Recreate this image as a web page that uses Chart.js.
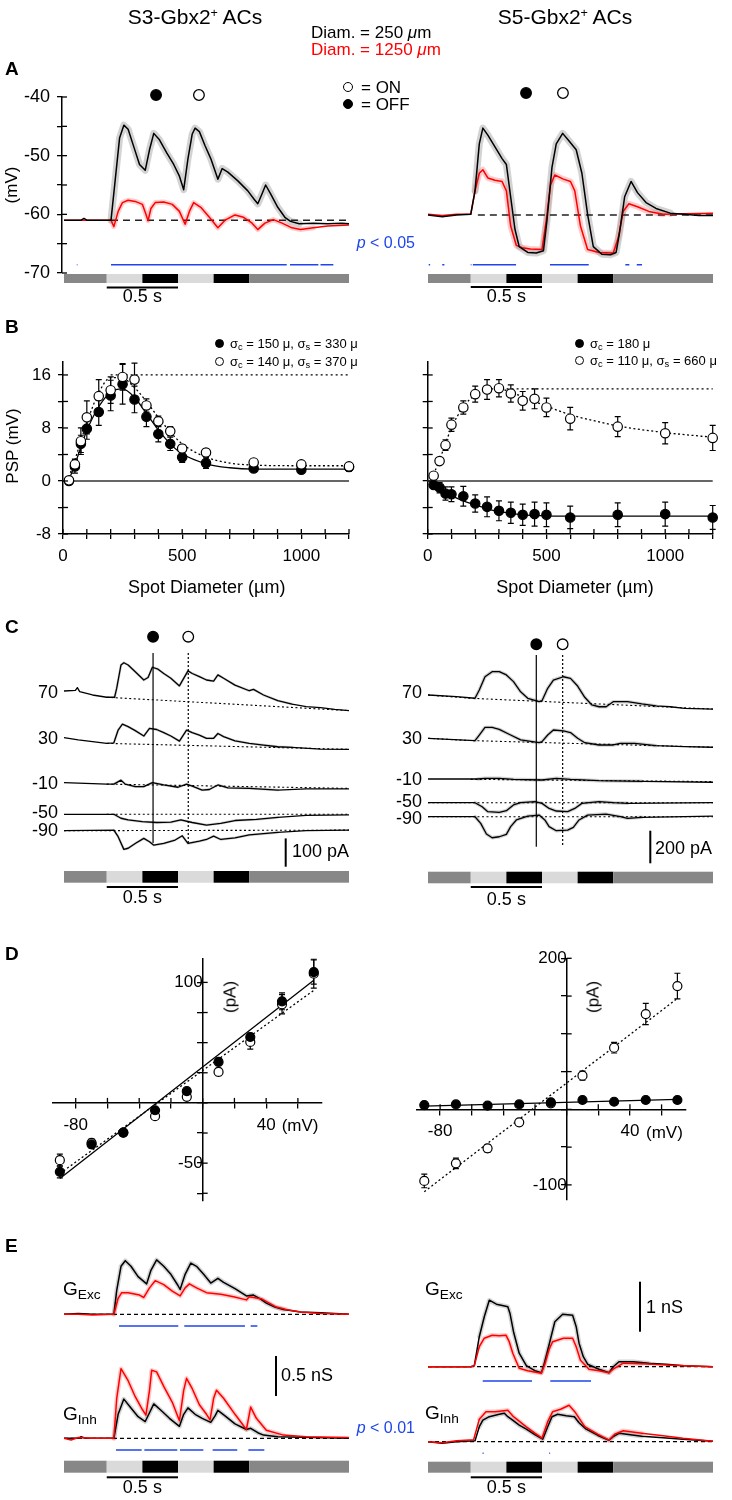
<!DOCTYPE html>
<html>
<head>
<meta charset="utf-8">
<title>S3 / S5 Gbx2+ amacrine cells</title>
<script src="https://cdn.jsdelivr.net/npm/chart.js"></script>
<style>
  body { margin: 0; background: #fff; }
  #fig { position: relative; width: 732px; height: 1500px; overflow: hidden;
         font-family: "Liberation Sans", Arial, Helvetica, sans-serif; color: #000; }
  #fig canvas { position: absolute; left: 0; top: 0; }
  .t { position: absolute; white-space: nowrap; line-height: 1; }
  .t sub { font-size: 0.72em; vertical-align: -0.3em; line-height: 0; }
  .t sup { font-size: 0.6em; vertical-align: 0.55em; line-height: 0; }
  .dot { position: absolute; box-sizing: border-box; border: 1.3px solid #000; border-radius: 50%; background: #fff; }
  .dot.f { background: #000; }
</style>
</head>
<body>
<div id="fig"></div>
<script>
// ---------- stimulus (seconds) ----------
const stimEdges = [0, 0.3, 0.55, 0.8, 1.05, 1.3, 2.0];
const stimLevels = ['gray', 'light', 'dark', 'light', 'dark', 'gray'];
const timeBar = [0.3, 0.8]; // 0.5 s

// ---------- A: membrane potential (t s, mV) ----------
const vS3Small = [[0,-61],[0.12,-61],[0.14,-60.7],[0.16,-61],[0.33,-61],[0.36,-54],[0.39,-47],[0.42,-44.8],[0.45,-45.5],[0.49,-48.5],[0.53,-51.5],[0.57,-52.5],[0.6,-49],[0.63,-46.2],[0.67,-47.3],[0.72,-49.5],[0.77,-51.5],[0.81,-53.5],[0.84,-55.8],[0.87,-50.5],[0.9,-46.3],[0.92,-45.3],[0.95,-45.9],[0.99,-48.3],[1.03,-50.5],[1.08,-54],[1.11,-52.2],[1.15,-52.8],[1.22,-54.3],[1.29,-56],[1.33,-57.3],[1.36,-58.2],[1.39,-56.5],[1.415,-55],[1.45,-56.5],[1.5,-58.8],[1.55,-60.5],[1.59,-61.2],[1.65,-61.6],[1.75,-61.5],[1.85,-61.6],[1.95,-61.5],[2.0,-61.6]];
const vS3Large = [[0,-61],[0.2,-61],[0.33,-61],[0.35,-62.1],[0.38,-59.5],[0.41,-58],[0.45,-57.6],[0.5,-57.8],[0.55,-58.3],[0.575,-60],[0.59,-61.1],[0.61,-59],[0.64,-58],[0.7,-57.9],[0.76,-58.3],[0.81,-59.5],[0.85,-61.7],[0.88,-59.5],[0.91,-58],[0.96,-58.8],[1.02,-60.5],[1.08,-62.3],[1.13,-61],[1.2,-60.1],[1.26,-60.5],[1.32,-61.5],[1.36,-62.6],[1.41,-61.5],[1.47,-60.9],[1.53,-61.5],[1.6,-62.3],[1.66,-62.6],[1.75,-62.3],[1.85,-62],[2.0,-61.8]];
const vS5Small = [[0,-60.1],[0.1,-60.4],[0.2,-60.1],[0.3,-60],[0.33,-56],[0.36,-48],[0.385,-45.3],[0.42,-46.5],[0.47,-48.5],[0.52,-50.5],[0.55,-51.5],[0.58,-57],[0.61,-62.5],[0.64,-65.5],[0.7,-66.5],[0.76,-66.6],[0.81,-66.2],[0.835,-61],[0.87,-52],[0.9,-48],[0.945,-46.2],[0.99,-47.5],[1.04,-49],[1.08,-53],[1.12,-60],[1.16,-65.5],[1.22,-66.8],[1.28,-66.9],[1.32,-66.5],[1.345,-63],[1.38,-57],[1.425,-54.4],[1.47,-56.3],[1.53,-58],[1.6,-59],[1.7,-59.8],[1.8,-60],[1.9,-60.2],[2.0,-60.2]];
const vS5Large = [[0,-60],[0.1,-60.2],[0.2,-60],[0.3,-60],[0.33,-56],[0.36,-53],[0.385,-52.4],[0.42,-53.8],[0.47,-54.2],[0.52,-54.4],[0.55,-56],[0.58,-62],[0.62,-65.3],[0.66,-65.7],[0.72,-65.9],[0.8,-66],[0.83,-61],[0.86,-55],[0.89,-53.3],[0.95,-54],[1.0,-54.4],[1.03,-56],[1.07,-62],[1.12,-66],[1.2,-66.5],[1.3,-66.6],[1.335,-64],[1.37,-59.5],[1.41,-58.2],[1.47,-58.7],[1.55,-59.5],[1.65,-60],[1.8,-59.9],[2.0,-59.8]];
const restS3 = -61, restS5 = -60.1;
const sigS3A = [[0.08,0.084],[0.09,0.094],[0.33,1.563],[1.586,1.785],[1.8,1.89]];
const sigS5A = [[0.005,0.015],[0.1,0.115],[0.3,0.305],[0.315,0.618],[0.856,1.128],[1.385,1.413],[1.465,1.502]];
const probeS3A = [0.646, 0.947];   // OFF, ON
const probeS5A = [0.688, 0.947];

// ---------- B: area summation (diameter um, mV) ----------
const diam = [25,50,75,100,150,200,250,300,350,400,450,500,600,800,1000,1200];
const bS3Off = [0,2.2,5.6,7.9,10.4,12.9,14.6,12.3,9.7,7.1,5.6,3.6,2.7,1.9,1.7,2.1];
const bS3OffErr = [0.3,1,1.3,1.6,2,2.3,3,2,1.5,1.2,1,0.8,0.8,0.5,0.5,0.6];
const bS3On = [0.1,2.5,6,9.6,12.8,13.7,15.7,15.3,11.4,9,7.5,4.9,4.3,2.8,2.5,2.2];
const bS3OnErr = [0.3,0.8,2,2.5,2.5,2,2,2.5,1,0.8,0.7,0.6,0.5,0.4,0.4,0.4];
const bS5Off = [-0.6,-1.0,-1.9,-2.0,-2.3,-3.4,-3.9,-4.5,-4.8,-5.1,-5.0,-5.1,-5.5,-5.1,-5.0,-5.5];
const bS5OffErr = [0.5,0.8,1,1.1,1.5,1.3,1.5,1.5,1.6,1.6,1.8,1.8,1.7,1.8,1.8,1.8];
const bS5On = [0.8,3.0,5.4,8.5,11.1,13.1,13.8,14.0,13.2,12.1,12.4,11.1,9.4,8.2,7.2,6.5];
const bS5OnErr = [0.4,0.5,0.8,1,1,1.2,1.5,1.3,1.3,1.4,1.5,1.4,1.7,1.5,1.6,1.9];
const fitDiam = [25,50,100,150,200,250,300,350,400,450,500,600,700,800,1000,1200];
const bS3OffFit = [0.2,2.5,7.6,11.2,13.4,13.9,12.6,10.2,7.7,5.6,4.1,2.6,2.0,1.8,1.8,1.8];
const bS3OnFit = [0.6,3.2,8.8,13.3,15.6,15.5,14.1,12,9.6,7.4,5.6,3.6,2.7,2.4,2.3,2.3];
const bS5OffFit = [-0.5,-1.2,-2.2,-3.0,-3.6,-4.2,-4.6,-4.9,-5.1,-5.2,-5.25,-5.3,-5.3,-5.3,-5.3,-5.3];
const bS5OnFit = [1.0,3.2,8.0,11.2,13.0,13.8,13.9,13.4,12.7,12.0,11.3,10.0,9.1,8.3,7.3,6.6];
const centerS3 = [[200,16],[1200,16]];
const centerS5 = [[290,13.9],[1200,13.9]];

// ---------- C: currents at holding potentials (t s, pA rel. to start) ----------
const holdV = [70, 30, -10, -50, -90];
const iS3 = [
  [[0,0],[0.08,2],[0.094,12],[0.11,-2],[0.2,-14],[0.3,-22],[0.355,-22],[0.37,10],[0.4,92],[0.42,100],[0.45,92],[0.5,68],[0.56,39],[0.59,48],[0.62,84],[0.66,77],[0.7,62],[0.75,45],[0.81,18],[0.87,71],[0.9,62],[0.95,51],[1.0,39],[1.05,35],[1.08,57],[1.12,45],[1.2,21],[1.3,1],[1.33,6],[1.4,-14],[1.5,-34],[1.6,-46],[1.7,-55],[1.8,-59],[1.9,-65],[2.0,-69]],
  [[0,0],[0.1,-8],[0.2,-14],[0.3,-20],[0.35,-18],[0.38,27],[0.41,48],[0.45,39],[0.5,25],[0.56,6],[0.6,33],[0.65,29],[0.7,18],[0.75,6],[0.81,-12],[0.86,27],[0.9,18],[0.95,9],[1.0,-2],[1.05,-2],[1.08,15],[1.12,4],[1.2,-11],[1.3,-20],[1.4,-26],[1.5,-32],[1.6,-34],[1.8,-40],[2.0,-41]],
  [[0,0],[0.3,-5],[0.35,-5],[0.4,9],[0.43,-5],[0.5,-14],[0.56,-14],[0.62,0],[0.7,-8],[0.8,-16],[0.86,-5],[0.9,-12],[0.97,-26],[1.02,-24],[1.08,-8],[1.15,-18],[1.3,-20],[1.5,-26],[1.7,-22],[2.0,-22]],
  [[0,0],[0.35,0],[0.4,-14],[0.45,-20],[0.55,-26],[0.65,-29],[0.75,-28],[0.82,-20],[0.9,-29],[1.0,-38],[1.1,-32],[1.2,-22],[1.35,-18],[1.5,-11],[1.7,-4],[2.0,-2]],
  [[0,0],[0.35,2],[0.38,-21],[0.42,-66],[0.45,-62],[0.5,-45],[0.56,-27],[0.6,-39],[0.63,-51],[0.7,-45],[0.78,-33],[0.83,-18],[0.87,-45],[0.95,-37],[1.0,-31],[1.05,-19],[1.1,-31],[1.2,-25],[1.3,-15],[1.5,-6],[1.7,0],[2.0,2]]
];
const iS3Base = [[[0.3,-22],[2,-69]], [[0.3,-20],[2,-41]], [[0.3,-5],[2,-20]], [[0.3,0],[2,0]], [[0,0],[2,2]]];
const iS5 = [
  [[0,0],[0.2,-10],[0.33,-20],[0.36,31],[0.4,112],[0.45,143],[0.5,143],[0.55,123],[0.6,82],[0.65,20],[0.7,-20],[0.78,-41],[0.8,-35],[0.84,41],[0.88,92],[0.95,112],[1.0,102],[1.05,55],[1.1,-14],[1.15,-61],[1.2,-72],[1.25,-72],[1.3,-41],[1.4,-41],[1.5,-55],[1.6,-67],[1.7,-72],[1.8,-82],[2.0,-86]],
  [[0,0],[0.33,-14],[0.36,20],[0.4,67],[0.45,67],[0.5,55],[0.58,20],[0.65,-10],[0.78,-27],[0.8,-20],[0.84,20],[0.88,51],[0.95,45],[1.0,35],[1.05,0],[1.1,-27],[1.2,-41],[1.3,-41],[1.35,-31],[1.45,-31],[1.6,-45],[1.8,-51],[2.0,-55]],
  [[0,0],[0.35,0],[0.4,4],[0.5,4],[0.6,-2],[0.8,-6],[0.9,4],[1.0,-2],[1.2,-10],[1.5,-14],[2.0,-20]],
  [[0,0],[0.33,0],[0.38,-25],[0.42,-55],[0.5,-59],[0.55,-49],[0.6,-14],[0.65,0],[0.75,6],[0.8,-4],[0.85,-35],[0.9,-51],[0.98,-55],[1.03,-35],[1.08,-4],[1.2,6],[1.3,0],[1.4,-4],[2.0,0]],
  [[0,0],[0.33,0],[0.37,-41],[0.41,-106],[0.45,-129],[0.5,-123],[0.55,-108],[0.58,-61],[0.62,-20],[0.7,4],[0.78,10],[0.82,-20],[0.85,-61],[0.9,-86],[0.98,-82],[1.02,-65],[1.06,-20],[1.12,10],[1.25,16],[1.35,0],[1.4,-10],[1.5,-4],[2.0,4]]
];
const iS5Base = [[[0,0],[0.3,-20],[2,-86]], [[0,0],[0.3,-14],[2,-55]], [[0.3,-2],[2,-16]], [[0,0],[2,0]], [[0,0],[2,0]]];
const probeS3C = [0.625, 0.872];
const probeS5C = [0.76, 0.945];

// ---------- D: I-V (mV, pA) ----------
const volts = [-90,-70,-50,-30,-10,10,30,50,70];
const dS3Off = [-57.2,-34.5,-24.6,-6.1,9.7,34,54.7,84.3,108.6];
const dS3OffErr = [5,3,2,2,2,3,3,7,10];
const dS3On = [-47.5,-33.1,-24.6,-11,5,25.7,50.6,81.8,107.2];
const dS3OnErr = [5,3,2,2,2,3,6,8,12];
const dS5Off = [5.7,6.6,4.9,6.6,9.3,12.4,10.1,12.4,12.4];
const dS5OffErr = [2,2,2,2,2,2,2,3,4];
const dS5On = [-94.8,-71.5,-51.6,-17.2,8,44.6,81.6,126.2,163.2];
const dS5OnErr = [9,7,5,2,2,6,7,14,17];
const fitV = [-90, 70];
const dS3OffFit = [-62.7, 101.7];
const dS3OnFit = [-58.6, 93.4];
const dS5OffFit = [4.4, 13.2];
const dS5OnFit = [-109, 146.9];

// ---------- E: conductances (t s, nS) ----------
const gExcS3Small = [[0,0],[0.1,0.01],[0.2,0],[0.35,0],[0.37,0.3],[0.4,0.6],[0.43,0.67],[0.47,0.6],[0.52,0.47],[0.58,0.38],[0.61,0.55],[0.65,0.68],[0.7,0.6],[0.75,0.5],[0.8,0.36],[0.815,0.31],[0.85,0.5],[0.89,0.64],[0.93,0.6],[0.98,0.5],[1.03,0.39],[1.08,0.45],[1.12,0.4],[1.2,0.32],[1.28,0.23],[1.33,0.24],[1.38,0.19],[1.42,0.14],[1.48,0.09],[1.54,0.06],[1.66,0.03],[1.8,0.02],[2.0,0]];
const gExcS3Large = [[0,0],[0.1,0],[0.2,-0.01],[0.35,0],[0.38,0.2],[0.405,0.27],[0.45,0.27],[0.53,0.24],[0.56,0.21],[0.6,0.33],[0.64,0.42],[0.7,0.37],[0.76,0.29],[0.815,0.23],[0.85,0.33],[0.88,0.38],[0.93,0.33],[1.0,0.27],[1.1,0.25],[1.19,0.22],[1.28,0.18],[1.3,0.22],[1.39,0.19],[1.45,0.13],[1.49,0.09],[1.56,0.06],[1.66,0.03],[1.8,0.01],[2.0,0]];
const gInhS3Small = [[0,0],[0.1,0],[0.12,0.02],[0.15,0],[0.35,0],[0.38,0.3],[0.42,0.49],[0.47,0.38],[0.52,0.27],[0.57,0.21],[0.6,0.32],[0.63,0.43],[0.68,0.35],[0.74,0.25],[0.81,0.15],[0.84,0.3],[0.87,0.38],[0.92,0.3],[0.97,0.25],[1.03,0.2],[1.06,0.28],[1.08,0.35],[1.13,0.28],[1.2,0.18],[1.28,0.11],[1.31,0.125],[1.36,0.07],[1.4,0.04],[1.5,0.02],[2.0,0]];
const gInhS3Large = [[0,0],[0.05,-0.02],[0.1,0.01],[0.2,0],[0.35,0],[0.37,0.5],[0.4,0.87],[0.45,0.72],[0.5,0.52],[0.55,0.36],[0.575,0.29],[0.6,0.6],[0.615,0.85],[0.65,0.83],[0.7,0.65],[0.76,0.45],[0.81,0.22],[0.84,0.6],[0.86,0.75],[0.9,0.62],[0.95,0.42],[1.0,0.3],[1.025,0.23],[1.05,0.5],[1.07,0.6],[1.12,0.5],[1.2,0.3],[1.28,0.11],[1.31,0.39],[1.35,0.25],[1.42,0.1],[1.54,0.04],[1.7,0.02],[2.0,0.01]];
const gExcS5Small = [[0,0],[0.3,0],[0.325,0.02],[0.36,0.6],[0.395,1.0],[0.43,1.33],[0.48,1.25],[0.53,1.22],[0.56,1.2],[0.575,1.07],[0.6,0.7],[0.64,0.27],[0.69,0.02],[0.75,-0.08],[0.795,-0.12],[0.81,0],[0.84,0.33],[0.89,0.9],[0.945,1.05],[1.015,1.03],[1.04,0.8],[1.06,0.47],[1.09,0.2],[1.12,0.05],[1.2,-0.05],[1.27,-0.12],[1.3,0],[1.34,0.1],[1.44,0.1],[1.55,0.07],[1.67,0.05],[1.8,0.02],[2.0,0]];
const gExcS5Large = [[0,0],[0.3,0],[0.325,0.02],[0.36,0.4],[0.395,0.57],[0.45,0.63],[0.5,0.62],[0.547,0.63],[0.57,0.5],[0.595,0.27],[0.64,-0.03],[0.7,-0.08],[0.795,-0.13],[0.82,0.05],[0.85,0.35],[0.875,0.5],[0.95,0.57],[1.015,0.57],[1.04,0.4],[1.07,0.13],[1.13,-0.05],[1.2,-0.08],[1.27,-0.12],[1.3,-0.05],[1.37,0.07],[1.5,0.06],[1.7,0.03],[2.0,0]];
const gInhS5Small = [[0,0],[0.1,-0.03],[0.2,0],[0.33,0.02],[0.36,0.3],[0.385,0.43],[0.43,0.5],[0.5,0.55],[0.536,0.57],[0.56,0.5],[0.594,0.43],[0.64,0.33],[0.69,0.25],[0.75,0.14],[0.805,0.05],[0.84,0.3],[0.87,0.5],[0.91,0.55],[0.97,0.52],[1.027,0.5],[1.06,0.38],[1.11,0.25],[1.19,0.13],[1.27,0.03],[1.3,0.1],[1.343,0.17],[1.42,0.14],[1.5,0.11],[1.65,0.08],[1.79,0.05],[2.0,0.01]];
const gInhS5Large = [[0,0],[0.1,-0.02],[0.2,0.02],[0.32,0.04],[0.36,0.45],[0.407,0.6],[0.47,0.6],[0.56,0.63],[0.6,0.5],[0.688,0.3],[0.75,0.17],[0.8,0.07],[0.84,0.4],[0.875,0.6],[0.93,0.65],[0.99,0.73],[1.03,0.6],[1.1,0.3],[1.19,0.15],[1.27,0.03],[1.31,0.15],[1.37,0.22],[1.5,0.17],[1.65,0.12],[1.79,0.07],[2.0,0.01]];
const sigS3Exc = [[0.386,0.802],[0.844,1.27],[1.31,1.357]];
const sigS3Inh = [[0.365,0.545],[0.564,0.795],[0.814,0.978],[1.043,1.216],[1.294,1.406]];
const sigS5Exc = [[0.384,0.73],[0.858,1.144]];
const sigS5Inh = [[0.383,0.39],[0.851,0.857]];

// ---------- styling / layout ----------
const FONT = '"Liberation Sans", Arial, Helvetica, sans-serif';
const W = 732, H = 1500;
const AXW = 50, AXH = 44;          // room kept for tick labels of left / bottom axes
const RED = '#ff0000', BLUE = '#1f45ee';
const GREY_BAND = 'rgba(150,150,150,0.42)', PINK_BAND = 'rgba(255,90,90,0.3)';
const SHADE = {gray: '#878787', light: '#dadada', dark: '#000000'};
const fig = document.getElementById('fig');

const xy = (pairs, off = 0) => pairs.map(([x, y]) => ({x, y: y + off}));
const zip = (xs, ys) => xs.map((x, i) => [x, ys[i]]);
function fitBox(s) {
  const p = s.options.position;
  const size = typeof p === 'object' ? 0 : (s.isHorizontal() ? AXH : AXW);
  if (s.isHorizontal()) s.height = size; else s.width = size;
}

function line(pairs, color, width, off = 0, extra = {}) {
  return Object.assign({type: 'line', data: xy(pairs, off), borderColor: color, borderWidth: width,
    pointRadius: 0, tension: 0, fill: false, clip: false, borderJoinStyle: 'round', order: 1}, extra);
}
function halo(pairs, color, width, off, win) {
  return line(pairs, color, width, off, {order: 9, borderCapStyle: 'round',
    segment: {borderColor: c => (c.p0.parsed.x >= win[0] && c.p1.parsed.x <= win[1]) ? color : 'rgba(0,0,0,0)'}});
}
function sigLine(segs, y) {
  const data = [];
  segs.forEach(([a, b]) => data.push({x: a, y}, {x: b, y}, {x: b, y: null}));
  return {type: 'line', data, borderColor: BLUE, borderWidth: 1.6, pointRadius: 0, spanGaps: false, clip: false, order: 3};
}
function pts(xs, ys, errs, filled, r, order) {
  return {type: 'line', showLine: false, data: xs.map((x, i) => ({x, y: ys[i]})), errors: errs,
    pointRadius: r, pointBackgroundColor: filled ? '#000' : '#fff', pointBorderColor: '#000',
    pointBorderWidth: 1.2, clip: false, order};
}

function axis(min, max, step, labels, extra = {}, size = 17) {
  return Object.assign({type: 'linear', min, max, afterFit: fitBox,
    border: {display: true, color: '#000', width: 1.5},
    grid: {display: true, drawOnChartArea: false, drawTicks: true, tickLength: 5, color: '#000', lineWidth: 1.3},
    ticks: {stepSize: step, includeBounds: false, autoSkip: false, maxRotation: 0, padding: 7, color: '#000',
      font: {family: FONT, size}, callback: v => labels.includes(v) ? String(v) : ''}}, extra);
}
const hidden = (min, max) => ({type: 'linear', min, max, display: false});
const timeX = () => hidden(-0.014, 2);

// decorations drawn with the chart's own scales
function deco(c) {
  return {
    id: 'deco',
    beforeDatasetsDraw(chart) {
      const {ctx} = chart, xs = chart.scales.x, ys = chart.scales.y;
      chart.data.datasets.forEach(ds => {
        if (!ds.errors) return;
        ctx.save(); ctx.strokeStyle = '#000'; ctx.lineWidth = 1.2;
        ds.data.forEach((p, i) => {
          const e = ds.errors[i]; if (!e) return;
          const px = xs.getPixelForValue(p.x), lo = ys.getPixelForValue(p.y - e), hi = ys.getPixelForValue(p.y + e);
          ctx.beginPath();
          ctx.moveTo(px, lo); ctx.lineTo(px, hi);
          ctx.moveTo(px - 3, lo); ctx.lineTo(px + 3, lo);
          ctx.moveTo(px - 3, hi); ctx.lineTo(px + 3, hi);
          ctx.stroke();
        });
        ctx.restore();
      });
    },
    afterDraw(chart) {
      const {ctx, chartArea} = chart, xs = chart.scales.x, ys = chart.scales.y;
      ctx.save();
      if (c.cross) {
        ctx.strokeStyle = '#000'; ctx.lineWidth = 1.3;
        if (xs.options.display) {
          const pos = xs.options.position;
          const yb = typeof pos === 'object' ? ys.getPixelForValue(pos.y) : chartArea.bottom;
          xs.ticks.forEach(t => { const p = xs.getPixelForValue(t.value); ctx.beginPath(); ctx.moveTo(p, yb); ctx.lineTo(p, yb - c.cross); ctx.stroke(); });
        }
        if (ys.options.display) {
          const pos = ys.options.position;
          const xb = typeof pos === 'object' ? xs.getPixelForValue(pos.x) : chartArea.left;
          ys.ticks.forEach(t => { const p = ys.getPixelForValue(t.value); ctx.beginPath(); ctx.moveTo(xb, p); ctx.lineTo(xb + c.cross, p); ctx.stroke(); });
        }
      }
      if (c.stim) {
        const s = c.stim;
        stimLevels.forEach((lv, i) => {
          const a = xs.getPixelForValue(stimEdges[i]), b = xs.getPixelForValue(stimEdges[i + 1]);
          ctx.fillStyle = SHADE[lv]; ctx.fillRect(a, s.top, b - a, s.h);
        });
        const s0 = xs.getPixelForValue(timeBar[0]), s1 = xs.getPixelForValue(timeBar[1]);
        ctx.fillStyle = '#000'; ctx.fillRect(s0, s.line - 1, s1 - s0, 2);
        ctx.font = '18px ' + FONT; ctx.textAlign = 'center'; ctx.textBaseline = 'middle';
        ctx.fillText('0.5 s', (s0 + s1) / 2, s.text);
      }
      if (c.marks) {
        const m = c.marks;
        m.times.forEach((t, i) => {
          const px = xs.getPixelForValue(t);
          if (m.lines) {
            ctx.strokeStyle = '#000'; ctx.lineWidth = 1.2; ctx.setLineDash(i === 0 ? [] : [2, 2]);
            ctx.beginPath(); ctx.moveTo(px, m.lines[0]); ctx.lineTo(px, m.lines[1]); ctx.stroke();
            ctx.setLineDash([]);
          }
          ctx.beginPath(); ctx.arc(px, m.y, 5.3, 0, Math.PI * 2);
          ctx.fillStyle = i === 0 ? '#000' : '#fff'; ctx.fill();
          ctx.strokeStyle = '#000'; ctx.lineWidth = 1.3; ctx.stroke();
        });
      }
      if (c.bar) {
        const len = Math.abs(ys.getPixelForValue(c.bar.value) - ys.getPixelForValue(0));
        ctx.fillStyle = '#000'; ctx.fillRect(c.bar.x - 1, c.bar.bottom - len, 2, len);
      }
      ctx.restore();
    }
  };
}

function chart(area, datasets, scales, dec) {
  const cv = document.createElement('canvas');
  cv.width = W; cv.height = H; fig.appendChild(cv);
  const pad = {left: area[0], top: area[1], right: W - area[2], bottom: H - area[3]};
  Object.values(scales).forEach(s => {
    if (s.display === false || typeof s.position === 'object') return;
    if (s.position === 'left') pad.left -= AXW;
    if (s.position === 'bottom') pad.bottom -= AXH;
  });
  return new Chart(cv, {
    type: 'line',
    data: {datasets},
    options: {
      responsive: false, animation: false, devicePixelRatio: 1, events: [],
      layout: {padding: pad},
      scales,
      plugins: {legend: {display: false}, tooltip: {enabled: false}}
    },
    plugins: [deco(dec)]
  });
}

// ---------- A ----------
chart([62, 97, 349, 273], [
  line(vS3Small, '#000', 1.5, 0, {order: 0}), halo(vS3Small, GREY_BAND, 7, 0, [0.32, 1.7]),
  line(vS3Large, RED, 1.5, 0, {order: 1}), halo(vS3Large, PINK_BAND, 5, 0, [0.32, 1.75]),
  line([[0.33, restS3], [2, restS3]], '#222', 1.5, 0, {borderDash: [7, 5], order: 2}),
  sigLine(sigS3A, -68.6)
], {
  x: timeX(),
  y: axis(-70, -40, 5, [-40, -50, -60, -70], {position: 'left'}, 18)
}, {cross: 5, stim: {top: 274, h: 9, line: 287.5, text: 297.5}, marks: {y: 95, times: probeS3A}});

chart([426, 97, 713, 273], [
  line(vS5Small, '#000', 1.5, 0, {order: 0}), halo(vS5Small, GREY_BAND, 7, 0, [0.32, 1.7]),
  line(vS5Large, RED, 1.5, 0, {order: 1}), halo(vS5Large, PINK_BAND, 6, 0, [0.32, 1.7]),
  line([[0.35, restS5], [2, restS5]], '#222', 1.5, 0, {borderDash: [7, 5], order: 2}),
  sigLine(sigS5A, -68.6)
], {x: timeX(), y: hidden(-70, -40)},
{stim: {top: 274, h: 9, line: 287, text: 297.5}, marks: {y: 93, times: probeS5A}});

// ---------- B ----------
function bPanel(area, off, offErr, on, onErr, offFit, onFit, center, yLabels) {
  return chart(area, [
    line([[0, 0], [1200, 0]], '#666', 2, 0, {order: 20}),
    line(center, '#000', 1.3, 0, {borderDash: [2, 3], order: 6}),
    line(zip(fitDiam, onFit), '#000', 1.3, 0, {borderDash: [2, 2.5], cubicInterpolationMode: 'monotone', order: 5}),
    line(zip(fitDiam, offFit), '#000', 1.3, 0, {cubicInterpolationMode: 'monotone', order: 4}),
    pts(diam, off, offErr, true, 4.7, 2),
    pts(diam, on, onErr, false, 4.7, 1)
  ], {
    x: axis(0, 1200, 100, [0, 500, 1000], {position: 'bottom'}),
    y: axis(-8, 18, 4, yLabels, {position: 'left'})
  }, {cross: 5});
}
bPanel([63, 361.7, 349, 534], bS3Off, bS3OffErr, bS3On, bS3OnErr, bS3OffFit, bS3OnFit, centerS3, [16, 8, 0, -8]);
bPanel([427.7, 361.7, 712.7, 534], bS5Off, bS5OffErr, bS5On, bS5OnErr, bS5OffFit, bS5OnFit, centerS5, []);

// ---------- C ----------
function cPanel(area, traces, bases, offsets, yMax, band, dec) {
  const ds = [];
  traces.forEach((tr, i) => {
    ds.push(line(tr, '#000', 1.3, offsets[i], {order: 1}));
    ds.push(halo(tr, 'rgba(150,150,150,0.45)', band, offsets[i], [0.33, 1.6]));
    ds.push(line(bases[i], '#000', 1.1, offsets[i], {borderDash: [2, 2.5], order: 2}));
  });
  return chart(area, ds, {x: timeX(), y: hidden(0, yMax)}, dec);
}
cPanel([62, 640, 349, 868], iS3, iS3Base, [625.4, 460.4, 301.4, 189.8, 131.8], 805.7, 2.5,
  {stim: {top: 871, h: 11.7, line: 887, text: 898}, marks: {y: 636.7, times: probeS3C, lines: [653, 843]},
   bar: {x: 285.7, bottom: 866.7, value: 100}});
cPanel([426, 640, 713, 868], iS5, iS5Base, [1061.3, 795.7, 546, 400.6, 314.7], 1398.8, 3.5,
  {stim: {top: 871.7, h: 11.6, line: 887, text: 900}, marks: {y: 644.3, times: probeS5C, lines: [655, 846.7]},
   bar: {x: 650.3, bottom: 863.3, value: 200}});

// ---------- D ----------
function dPanel(area, xr, yr, ystep, yLabels, off, offErr, on, onErr, offFit, onFit) {
  return chart(area, [
    line(zip(fitV, offFit), '#000', 1.3, 0, {order: 4}),
    line(zip(fitV, onFit), '#000', 1.3, 0, {borderDash: [2, 2.5], order: 5}),
    pts(volts, on, onErr, false, 4.5, 2),
    pts(volts, off, offErr, true, 4.5, 1)
  ], {
    x: axis(xr[0], xr[1], 20, [-80, 40], {position: {y: 0}}),
    y: axis(yr[0], yr[1], ystep, yLabels, {position: {x: 0}})
  }, {cross: 5});
}
dPanel([52.7, 958.3, 321.7, 1200.5], [-94.5, 75], [-81, 120], 25, [100, -50], dS3Off, dS3OffErr, dS3On, dS3OnErr, dS3OffFit, dS3OnFit);
dPanel([416.7, 958.3, 685.3, 1200], [-94.8, 75], [-120, 200], 50, [200, -100], dS5Off, dS5OffErr, dS5On, dS5OnErr, dS5OffFit, dS5OnFit);

// ---------- E ----------
function ePanel(area, yr, excOff, exc, inh, sigExc, sigInh, sigY, dec) {
  const ds = [
    line([[0, 0], [2, 0]], '#000', 1.3, excOff, {borderDash: [4, 3], order: 4}),
    line([[0, 0], [2, 0]], '#000', 1.3, 0, {borderDash: [4, 3], order: 4}),
    sigLine(sigExc, sigY[0]), sigLine(sigInh, sigY[1])
  ];
  [[exc, excOff], [inh, 0]].forEach(([pair, off]) => {
    ds.push(line(pair[0], '#000', 1.5, off, {order: 1}), halo(pair[0], GREY_BAND, 4.5, off, [0.34, 1.6]));
    ds.push(line(pair[1], RED, 1.5, off, {order: 0}), halo(pair[1], PINK_BAND, 4.5, off, [0.34, 1.6]));
  });
  return chart(area, ds, {x: timeX(), y: hidden(yr[0], yr[1])}, dec);
}
ePanel([62, 1245, 349, 1458], [-0.246, 2.416], 1.55, [gExcS3Small, gExcS3Large], [gInhS3Small, gInhS3Large],
  sigS3Exc, sigS3Inh, [1.404, -0.146],
  {stim: {top: 1460.7, h: 12, line: 1477.3, text: 1488}, bar: {x: 276, bottom: 1396, value: 0.5}});
ePanel([426, 1245, 713, 1458], [-0.326, 3.934], 1.5, [gExcS5Small, gExcS5Large], [gInhS5Small, gInhS5Large],
  sigS5Exc, sigS5Inh, [1.214, -0.232],
  {stim: {top: 1461.7, h: 11, line: 1477.3, text: 1488}, bar: {x: 640, bottom: 1331.7, value: 1}});

// ---------- text ----------
function label(html, x, y, o = {}) {
  const d = document.createElement('div');
  d.className = 't'; d.innerHTML = html;
  d.style.left = x + 'px'; d.style.top = y + 'px';
  d.style.fontSize = (o.size || 17) + 'px';
  if (o.color) d.style.color = o.color;
  if (o.bold) d.style.fontWeight = 'bold';
  const ax = o.align === 'c' || o.rot ? '-50%' : o.align === 'r' ? '-100%' : '0';
  d.style.transform = `translate(${ax},-50%)` + (o.rot ? ' rotate(-90deg)' : '');
  fig.appendChild(d);
}
function dot(x, y, r, filled) {
  const d = document.createElement('div');
  d.className = filled ? 'dot f' : 'dot';
  Object.assign(d.style, {left: (x - r) + 'px', top: (y - r) + 'px', width: 2 * r + 'px', height: 2 * r + 'px'});
  fig.appendChild(d);
}

label('S3-Gbx2<sup>+</sup> ACs', 195, 16, {size: 21, align: 'c'});
label('S5-Gbx2<sup>+</sup> ACs', 565, 16, {size: 21, align: 'c'});
label('Diam. = 250 <i>μ</i>m', 311, 32);
label('Diam. = 1250 <i>μ</i>m', 311, 48.5, {color: RED});
dot(348.3, 87.3, 5, false); label('= ON', 361, 87.3);
dot(348.3, 104, 5, true); label('= OFF', 361, 104);
[['A', 67.5], ['B', 326], ['C', 626], ['D', 952.5], ['E', 1245]].forEach(([l, y]) => label(l, 5, y, {size: 19, bold: true}));
label('(mV)', 10.5, 185, {rot: true});
label('<i>p</i> &lt; 0.05', 415, 243.3, {size: 16, color: BLUE, align: 'r'});

dot(219, 343.3, 4.5, true); label('σ<sub>c</sub> = 150 μ, σ<sub>s</sub> = 330 μ', 230, 343.3, {size: 13});
dot(219, 361, 4.5, false); label('σ<sub>c</sub> = 140 μ, σ<sub>s</sub> = 370 μ', 230, 361, {size: 13});
dot(579.3, 343.3, 4.5, true); label('σ<sub>c</sub> = 180 μ', 590, 343.3, {size: 13});
dot(579.3, 360, 4.5, false); label('σ<sub>c</sub> = 110 μ, σ<sub>s</sub> = 660 μ', 590, 360, {size: 13});
label('PSP (mV)', 11.5, 446, {rot: true});
label('Spot Diameter (µm)', 206.7, 586.7, {size: 18, align: 'c'});
label('Spot Diameter (µm)', 575, 586.7, {size: 18, align: 'c'});

const cLabelY3 = [692, 738.3, 783.3, 811.7, 830];
const cLabelY5 = [691.7, 738.3, 779.3, 800.7, 818.3];
holdV.forEach((v, i) => {
  label(String(v), 58, cLabelY3[i], {size: 18, align: 'r'});
  label(String(v), 422, cLabelY5[i], {size: 18, align: 'r'});
});
label('100 pA', 292, 851, {size: 18});
label('200 pA', 655, 847.5, {size: 18});

label('(pA)', 230, 996.7, {rot: true});
label('(pA)', 592.7, 996.7, {rot: true});
label('(mV)', 281.7, 1125);
label('(mV)', 646, 1131.7);

label('G<sub>Exc</sub>', 63, 1288.3, {size: 19});
label('G<sub>Inh</sub>', 63, 1412.7, {size: 19});
label('G<sub>Exc</sub>', 425, 1288.3, {size: 19});
label('G<sub>Inh</sub>', 425, 1412, {size: 19});
label('0.5 nS', 281, 1375, {size: 18});
label('1 nS', 646, 1307.3, {size: 18});
label('<i>p</i> &lt; 0.01', 415, 1428.3, {size: 16, color: BLUE, align: 'r'});
</script>
</body>
</html>
